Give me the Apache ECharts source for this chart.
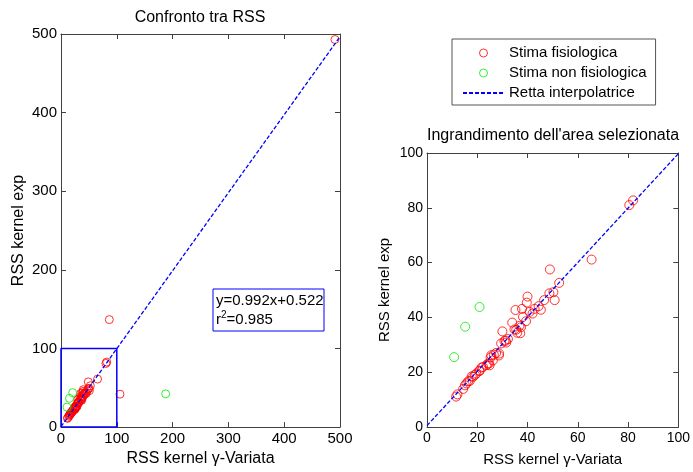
<!DOCTYPE html>
<html>
<head>
<meta charset="utf-8">
<script src="https://cdn.jsdelivr.net/npm/echarts@6/dist/echarts.min.js"></script>
<style>html,body{margin:0;padding:0;background:#fff}#c{width:693px;height:472px}</style>
</head>
<body>
<div id="c"></div>
<script>
// Data
const physX = [82.0,80.5,65.5,48.9,52.6,50.3,48.7,50.8,40.0,39.7,46.6,44.4,45.3,42.8,35.2,37.8,40.8,42.0,38.2,39.4,33.9,36.8,37.4,35.5,34.8,35.9,37.1,30.0,31.3,30.8,29.5,32.2,31.5,28.7,27.5,26.6,25.6,28.6,25.3,26.2,24.7,24.2,23.7,24.9,22.3,21.7,20.9,20.8,19.6,19.1,18.3,17.8,17.0,16.4,15.7,15.1,14.4,12.1,11.6,86.6,105.7,491.0];
const physY = [82.7,81.0,61.1,57.5,52.6,49.2,48.8,46.3,47.6,45.4,46.3,44.1,42.8,43.1,42.7,43.1,42.0,41.4,40.2,38.6,38.1,36.9,36.4,35.5,35.6,34.4,34.2,34.9,31.5,31.4,30.5,32.1,30.8,26.8,27.0,26.4,26.2,26.1,25.4,24.3,23.2,23.1,22.6,22.5,21.9,21.7,20.4,20.6,19.5,19.0,18.3,18.5,16.8,16.7,15.9,15.2,13.9,11.9,11.1,136.7,41.9,493.0];
const nonX = [10.8,15.2,20.9,187.6];
const nonY = [25.5,36.6,43.8,42.3];
const fitSlope = 0.992, fitIntercept = 0.522, fitR2 = 0.985;
const mainTicks = [0,100,200,300,400,500];
const zoomTicks = [0,20,40,60,80,100];
const zoomBox = [[0,0],[100,0],[100,100],[0,100],[0,0]];

const FONT = '"Liberation Sans", Arial, sans-serif';
const AX = '#404040';
const phys = physX.map((x,i)=>[x, physY[i]]);
const non = nonX.map((x,i)=>[x, nonY[i]]);
const fitLine = (a,b)=>[[a, fitSlope*a+fitIntercept],[b, fitSlope*b+fitIntercept]];

function xAx(grid, pos, ticks, show, fs, name, gap){
  return {gridIndex:grid, type:'value', position:pos, min:ticks[0], max:ticks[ticks.length-1], interval:ticks[1]-ticks[0],
    splitLine:{show:false}, axisLine:{onZero:false, lineStyle:{color:AX,width:1}},
    axisTick:{inside:true,length:5,lineStyle:{color:AX}},
    axisLabel:{show:show, color:'#000', fontSize:fs, fontFamily:FONT, margin:4},
    name: name||'', nameLocation:'middle', nameGap:gap||0, nameTextStyle:{color:'#000', fontSize:fs+1, fontFamily:FONT}};
}
function yAx(grid, pos, ticks, show, fs, name, gap){
  const a = xAx(grid,pos,ticks,show,fs,name,gap);
  a.nameRotate = 90;
  return a;
}
const red = '#ff0000', green = '#00ee00', blue = '#0000ff';
const ring = c => ({color:'rgba(0,0,0,0)', borderColor:c, borderWidth:1});
const chart = echarts.init(document.getElementById('c'), null, {renderer:'canvas'});
chart.setOption({
  animation:false,
  backgroundColor:'#fff',
  grid:[{left:61, top:34, width:279, height:394},{left:427, top:153, width:253, height:280}],
  xAxis:[xAx(0,'bottom',mainTicks,true,15,'RSS kernel γ-Variata',23), xAx(0,'top',mainTicks,false,15),
         xAx(1,'bottom',zoomTicks,true,14,'RSS kernel γ-Variata',25), xAx(1,'top',zoomTicks,false,14)],
  yAxis:[yAx(0,'left',mainTicks,true,15,'RSS kernel exp',34), yAx(0,'right',mainTicks,false,15),
         yAx(1,'left',zoomTicks,true,14,'RSS kernel exp',35), yAx(1,'right',zoomTicks,false,14)],
  legend:{left:452, top:39, orient:'vertical', padding:[6,9,4,10], itemGap:4, itemWidth:41, itemHeight:8,
    borderColor:'#555', borderWidth:1, backgroundColor:'#fff',
    textStyle:{fontSize:15, fontFamily:FONT, color:'#000', lineHeight:16},
    data:[{name:'Stima fisiologica', itemStyle:{color:'rgba(0,0,0,0)', borderColor:red, borderWidth:1}},
          {name:'Stima non fisiologica', itemStyle:{color:'rgba(0,0,0,0)', borderColor:green, borderWidth:1}},
          {name:'Retta interpolatrice', itemStyle:{opacity:0}}]},
  series:[
    {name:'Stima fisiologica', type:'scatter', xAxisIndex:0, yAxisIndex:0, data:phys, symbol:'circle', symbolSize:8, itemStyle:ring(red)},
    {name:'Stima non fisiologica', type:'scatter', xAxisIndex:0, yAxisIndex:0, data:non, symbol:'circle', symbolSize:8, itemStyle:ring(green)},
    {name:'Retta interpolatrice', type:'line', xAxisIndex:0, yAxisIndex:0, data:fitLine(0,500), symbol:'none', lineStyle:{color:blue, width:1.3, type:[4,2]}, itemStyle:{color:blue}},
    {name:'box', type:'line', xAxisIndex:0, yAxisIndex:0, data:zoomBox, symbol:'none', clip:false, lineStyle:{color:blue, width:1.5}, z:3},
    {name:'Stima fisiologica', type:'scatter', xAxisIndex:2, yAxisIndex:2, data:phys, symbol:'circle', symbolSize:9, itemStyle:ring(red)},
    {name:'Stima non fisiologica', type:'scatter', xAxisIndex:2, yAxisIndex:2, data:non, symbol:'circle', symbolSize:9, itemStyle:ring(green)},
    {name:'Retta interpolatrice', type:'line', xAxisIndex:2, yAxisIndex:2, data:fitLine(0,100), symbol:'none', lineStyle:{color:blue, width:1.3, type:[4,2]}, itemStyle:{color:blue}}
  ],
  graphic:[
    {type:'text', x:200, y:10, style:{text:'Confronto tra RSS', font:'16px '+FONT, fill:'#000', align:'center', verticalAlign:'top'}},
    {type:'text', x:553, y:128, style:{text:"Ingrandimento dell'area selezionata", font:'16px '+FONT, fill:'#000', align:'center', verticalAlign:'top'}},
    {type:'rect', shape:{x:213, y:289, width:111, height:42}, style:{fill:'#fff', stroke:blue, lineWidth:1}, z:10},
    {type:'text', x:216, y:291, z:11, style:{
      text:'{a|y='+fitSlope+'x+'+fitIntercept+'}\n{a|r}{s|2}{a|='+fitR2+'}',
      fill:'#000', verticalAlign:'top',
      rich:{a:{fontSize:15, fontFamily:FONT, lineHeight:19, fill:'#000'}, s:{fontSize:10, fontFamily:FONT, verticalAlign:'top', lineHeight:10, fill:'#000'}}}}
  ]
});
</script>
</body>
</html>
